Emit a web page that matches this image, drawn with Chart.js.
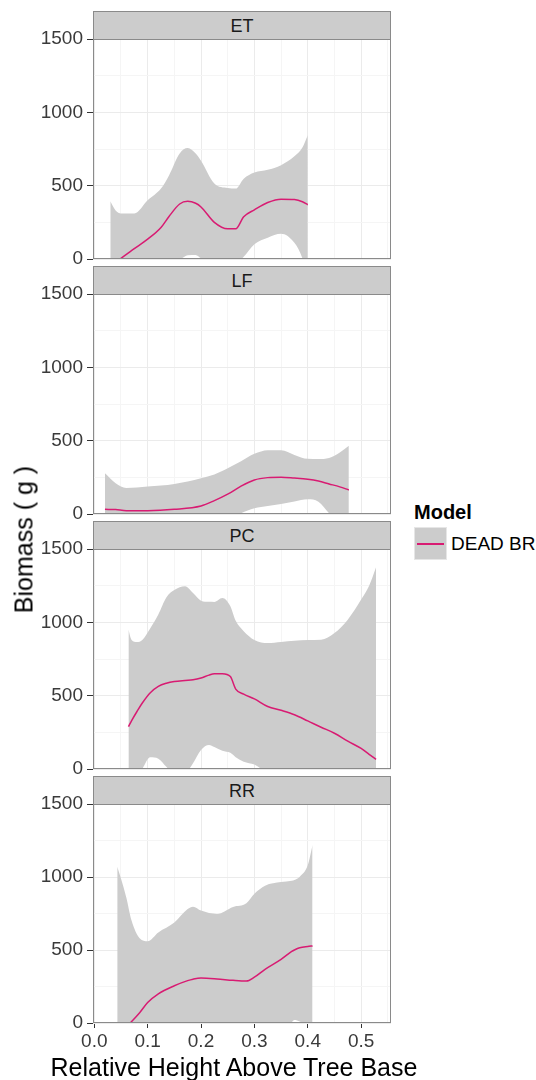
<!DOCTYPE html>
<html>
<head>
<meta charset="utf-8">
<script src="https://cdn.jsdelivr.net/npm/chart.js@4/dist/chart.umd.min.js"></script>
<style>
    body { margin: 0; background: #fff; }
    #wrap { position: relative; width: 536px; height: 1080px; font-family: 'Liberation Sans', Arial, sans-serif; }
    canvas { position: absolute; left: 0; }
    .strip {
        position: absolute; left: 93px; width: 298px; height: 29px; box-sizing: border-box;
        background: #cccccc; border: 1px solid #8a8a8a; text-align: center;
        font-size: 18px; line-height: 28px; color: #1a1a1a;
    }
    .txt { position: absolute; white-space: nowrap; color: #000; }
</style>
</head>
<body>
<div id="wrap">
    <div class="strip" style="top:11px">ET</div>
    <div class="strip" style="top:266px">LF</div>
    <div class="strip" style="top:521px">PC</div>
    <div class="strip" style="top:776px">RR</div>
    <canvas id="etChart" width="392" height="252" style="top:23px"></canvas>
    <canvas id="lfChart" width="392" height="252" style="top:278px"></canvas>
    <canvas id="pcChart" width="392" height="252" style="top:533px"></canvas>
    <canvas id="rrChart" width="392" height="275" style="top:788px"></canvas>

    <div class="txt" style="left:-76px; top:527px; width:200px; text-align:center; font-size:25px; line-height:25px; transform:rotate(-90deg);">Biomass ( g )</div>
    <div class="txt" style="left:34px; top:1055px; width:400px; text-align:center; font-size:25px; line-height:25px;">Relative Height Above Tree Base</div>

    <div class="txt" style="left:414px; top:502px; font-size:20px; line-height:20px; font-weight:bold;">Model</div>
    <div style="position:absolute; left:414px; top:527px; width:33px; height:33px; box-sizing:border-box; background:#cccccc; border:1px solid #e6e6e6;">
        <div style="position:absolute; left:2px; top:15px; width:27px; height:1.5px; background:#d81b72;"></div>
    </div>
    <div class="txt" style="left:451px; top:534px; font-size:19px; line-height:19px;">DEAD BR</div>
</div>
<script>
// 패널별 데이터 (x: 상대 높이)
const etX     = [0.030, 0.040, 0.050, 0.075, 0.100, 0.125, 0.140, 0.160, 0.175, 0.190, 0.200, 0.225, 0.250, 0.265, 0.280, 0.300, 0.325, 0.350, 0.375, 0.390, 0.400];
const etFit   = [-45, -20, 5, 70, 135, 215, 290, 375, 393, 380, 355, 250, 206, 206, 288, 335, 385, 408, 405, 390, 370];
const etUpper = [393, 330, 310, 310, 400, 480, 570, 720, 757, 720, 670, 515, 484, 480, 548, 590, 608, 640, 700, 760, 844];
const etLower = [-480, -380, -300, -170, -130, -60, -20, -5, 25, 28, 5, -30, -60, -30, 15, 100, 145, 172, 110, 5, -120];

const lfX     = [0.020, 0.040, 0.060, 0.100, 0.150, 0.200, 0.225, 0.250, 0.275, 0.300, 0.325, 0.350, 0.375, 0.400, 0.420, 0.440, 0.460, 0.477];
const lfFit   = [32, 30, 23, 23, 32, 55, 91, 135, 190, 232, 248, 251, 245, 237, 225, 205, 185, 164];
const lfUpper = [278, 210, 178, 187, 205, 244, 270, 312, 360, 410, 435, 435, 403, 376, 375, 382, 420, 465];
const lfLower = [-214, -150, -130, -141, -141, -134, -90, -35, 5, 39, 55, 68, 85, 100, 84, 5, -70, -137];

const pcX     = [0.064, 0.070, 0.080, 0.090, 0.105, 0.120, 0.135, 0.150, 0.170, 0.185, 0.200, 0.215, 0.225, 0.240, 0.255, 0.265, 0.280, 0.300, 0.325, 0.350, 0.375, 0.400, 0.425, 0.450, 0.475, 0.500, 0.515, 0.528];
const pcFit   = [289, 330, 392, 450, 520, 563, 585, 597, 604, 608, 620, 640, 649, 650, 630, 545, 510, 478, 426, 400, 370, 328, 285, 244, 190, 140, 100, 66];
const pcUpper = [950, 880, 866, 880, 960, 1053, 1170, 1220, 1246, 1200, 1148, 1140, 1139, 1166, 1109, 1010, 940, 880, 859, 866, 874, 880, 882, 927, 1018, 1155, 1250, 1376];
const pcLower = [-372, -200, -60, 0, 80, 70, 15, -40, -30, 40, 130, 164, 150, 125, 110, 80, 50, 30, -30, -80, -140, -230, -320, -440, -640, -880, -1050, -1240];

const rrX     = [0.043, 0.050, 0.060, 0.070, 0.085, 0.100, 0.120, 0.150, 0.175, 0.185, 0.200, 0.230, 0.260, 0.285, 0.300, 0.320, 0.350, 0.370, 0.375, 0.385, 0.400, 0.409];
const rrFit   = [-80, -55, -25, 10, 70, 140, 200, 255, 290, 300, 308, 302, 292, 287, 314, 368, 436, 490, 500, 515, 524, 528];
const rrUpper = [1071, 990, 860, 700, 580, 560, 620, 688, 780, 797, 770, 747, 795, 820, 885, 940, 965, 975, 980, 1002, 1080, 1219];
const rrLower = [-1200, -1100, -900, -660, -430, -280, -220, -180, -200, -200, -150, -140, -210, -250, -250, -200, -90, 5, 20, 10, -30, -160];

const yTicks = [0, 500, 1000, 1500];
const xTicks = ['0.0', '0.1', '0.2', '0.3', '0.4', '0.5'];

const lineColor = '#d81b72';
const ribbonColor = '#cccccc';

// 패널 테두리
const panelBorder = {
    id: 'panelBorder',
    afterDraw(chart) {
        const a = chart.chartArea;
        const ctx = chart.ctx;
        ctx.save();
        ctx.strokeStyle = '#8a8a8a';
        ctx.lineWidth = 1;
        ctx.strokeRect(a.left + 0.5, a.top + 0.5, a.right - a.left - 1, a.bottom - a.top - 1);
        ctx.restore();
    },
};

function toPoints(xs, ys) {
    return xs.map((x, i) => ({ x: x, y: ys[i] }));
}

function isMajorX(v) {
    return Math.round(v * 100) % 10 === 0;
}

function makePanel(id, xs, fit, upper, lower, isBottom) {
    const ctx = document.getElementById(id).getContext('2d');
    return new Chart(ctx, {
        type: 'line',
        data: {
            datasets: [
                {
                    data: toPoints(xs, lower),
                    borderWidth: 0,
                    pointRadius: 0,
                    fill: false,
                    cubicInterpolationMode: 'monotone',
                },
                {
                    data: toPoints(xs, upper),
                    borderWidth: 0,
                    pointRadius: 0,
                    backgroundColor: ribbonColor,
                    fill: '-1',
                    cubicInterpolationMode: 'monotone',
                },
                {
                    data: toPoints(xs, fit),
                    borderColor: lineColor,
                    borderWidth: 1.5,
                    pointRadius: 0,
                    fill: false,
                    cubicInterpolationMode: 'monotone',
                },
            ],
        },
        options: {
            responsive: false,
            animation: false,
            layout: { padding: { top: 16, bottom: isBottom ? 0 : 16, left: 0, right: 1 } },
            plugins: {
                legend: { display: false },
                tooltip: { enabled: false },
                filler: { drawTime: 'beforeDatasetsDraw' },
            },
            scales: {
                x: {
                    type: 'linear',
                    min: -0.0024,
                    max: 0.556,
                    afterFit(scale) {
                        if (isBottom) scale.height = 40;
                    },
                    border: { display: false },
                    grid: {
                        color: (c) => (c.tick && isMajorX(c.tick.value) ? '#ebebeb' : '#f5f5f5'),
                        drawTicks: isBottom,
                        tickLength: 5,
                        tickColor: (c) => (c.tick && isMajorX(c.tick.value) ? '#333333' : 'rgba(0,0,0,0)'),
                    },
                    ticks: {
                        display: isBottom,
                        stepSize: 0.05,
                        includeBounds: false,
                        autoSkip: false,
                        maxRotation: 0,
                        padding: 2,
                        color: '#3a3a3a',
                        font: { family: 'Liberation Sans', size: 19 },
                        callback: (v) => {
                            const r = Math.round(v * 100);
                            return r % 10 === 0 ? xTicks[r / 10] : '';
                        },
                    },
                },
                y: {
                    min: 0,
                    max: 1500,
                    afterFit(scale) {
                        scale.width = 93;
                    },
                    border: { display: false },
                    grid: {
                        color: (c) => (c.tick && yTicks.includes(c.tick.value) ? '#ebebeb' : '#f5f5f5'),
                        tickLength: 6,
                        tickColor: (c) => (c.tick && yTicks.includes(c.tick.value) ? '#333333' : 'rgba(0,0,0,0)'),
                    },
                    ticks: {
                        stepSize: 250,
                        autoSkip: false,
                        padding: 4,
                        color: '#3a3a3a',
                        font: { family: 'Liberation Sans', size: 19 },
                        callback: (v) => (yTicks.includes(v) ? String(v) : ''),
                    },
                },
            },
        },
        plugins: [panelBorder],
    });
}

makePanel('etChart', etX, etFit, etUpper, etLower, false);
makePanel('lfChart', lfX, lfFit, lfUpper, lfLower, false);
makePanel('pcChart', pcX, pcFit, pcUpper, pcLower, false);
makePanel('rrChart', rrX, rrFit, rrUpper, rrLower, true);
</script>
</body>
</html>
